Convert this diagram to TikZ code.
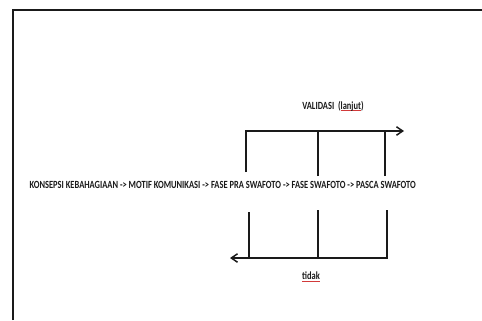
\documentclass[tikz,border=0pt]{standalone}
\usepackage{fontspec}
\usepackage{graphicx}
\setmainfont{Carlito}
\usetikzlibrary{arrows.meta, positioning}
\definecolor{cink}{HTML}{1A1A1A}
\definecolor{cspell}{HTML}{D23A3A}
\newcommand{\spellmark}[1]{{\setbox0\hbox{#1}\rlap{\color{cspell}\rule[-2pt]{\wd0}{0.6pt}}\box0}}
\newcommand{\narrow}[1]{\scalebox{0.77}[1]{#1}}
\tikzset{
  every picture/.style={line width=1.2pt, draw=cink},
  chain/.style={font=\fontsize{11}{13}\selectfont\bfseries, text=cink, inner sep=0pt},
  tag/.style={font=\fontsize{11}{13}\selectfont, text=cink, inner sep=0pt},
  arrow/.style={-{Straight Barb[length=2.2mm, width=3mm]}, line width=1.5pt},
  tick/.style={line width=1.1pt},
}

\begin{document}
\begin{tikzpicture}[x=1bp, y=-1bp]
  \useasboundingbox (0,0) rectangle (482,320);
  \draw[line width=2pt] (13,320) |- (482,10);
  \node[chain, anchor=west] (flow) at (29,185) {\narrow{KONSEPSI KEBAHAGIAAN -> MOTIF KOMUNIKASI -> FASE PRA SWAFOTO -> FASE SWAFOTO -> PASCA SWAFOTO}};
  \node[tag] (valid) at (333,106) {\narrow{\bfseries VALIDASI\ \ (\spellmark{lanjut})}};
  \node[tag] (tidak) at (311,277) {\narrow{\bfseries\spellmark{tidak}}};
  % upper branch
  \coordinate (up1) at (246,172);
  \coordinate (up2) at (318,176);
  \coordinate (up3) at (385,176);
  \coordinate (upend) at (404,131);
  \draw[arrow] (up1) |- (upend);
  \draw[tick] (up2) -- (up2 |- upend);
  \draw[tick] (up3) -- (up3 |- upend);
  % lower branch
  \coordinate (lo1) at (249,212);
  \coordinate (lo2) at (318,210);
  \coordinate (lo3) at (387,210);
  \coordinate (loend) at (230,258);
  \draw[arrow] (lo3) |- (loend);
  \draw[tick] (lo2) -- (lo2 |- loend);
  \draw[tick] (lo1) -- (lo1 |- loend);
\end{tikzpicture}
\end{document}
